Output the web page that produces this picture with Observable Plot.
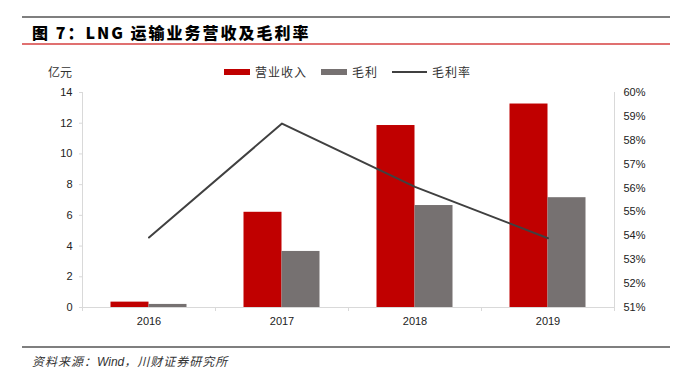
<!DOCTYPE html>
<html><head><meta charset="utf-8">
<script src="https://cdn.jsdelivr.net/npm/d3@7"></script>
<script src="https://cdn.jsdelivr.net/npm/@observablehq/plot@0.6"></script>
<style>
body{margin:0;background:#fff;width:686px;height:378px;position:relative;overflow:hidden;font-family:"Liberation Sans",Arial,sans-serif;}
.abs{position:absolute;}
#topline{left:22px;top:16px;width:648px;height:2px;background:#7f7f7f;}
#title{left:32px;top:20px;font-family:"Noto Sans CJK SC",sans-serif;font-weight:900;font-size:16px;letter-spacing:2px;color:#000;white-space:nowrap;}
#redline{left:22px;top:43px;width:648px;height:2px;background:#e07070;}
#unit{left:48px;top:63px;font-family:"Noto Sans CJK SC",sans-serif;font-size:12px;color:#333;}
#legend{left:224px;top:63px;font-family:"Noto Sans CJK SC",sans-serif;font-size:12px;letter-spacing:1px;color:#333;display:flex;align-items:center;white-space:nowrap;}
#legend .sw{display:inline-block;width:26px;height:6px;margin-right:5px;}
#legend .ln{display:inline-block;width:35px;height:2px;background:#404040;margin-right:5px;}
#legend .it{display:flex;align-items:center;margin-right:14px;}
#botline{left:22px;top:346px;width:648px;height:2px;background:#7f7f7f;}
#source{left:32px;top:352px;font-size:12px;letter-spacing:1px;font-style:italic;color:#333;font-family:"Noto Sans CJK SC",sans-serif;}
#source i{font-family:"Liberation Sans",Arial,sans-serif;letter-spacing:0;}
#chart{left:0;top:82px;}
</style></head>
<body>
<div class="abs" id="topline"></div>
<div class="abs" id="title">图 7：LNG 运输业务营收及毛利率</div>
<div class="abs" id="redline"></div>
<div class="abs" id="unit">亿元</div>
<div class="abs" id="legend"></div>
<div class="abs" id="chart"></div>
<div class="abs" id="botline"></div>
<div class="abs" id="source">资料来源：<i>Wind</i>，川财证券研究所</div>
<script>
const years = ["2016", "2017", "2018", "2019"];
const revenue = [0.35, 6.2, 11.85, 13.25];
const grossProfit = [0.2, 3.65, 6.64, 7.15];
const grossMargin = [53.93, 58.7, 56.05, 53.9];
const leftTicks = [0, 2, 4, 6, 8, 10, 12, 14];
const rightTicks = [51, 52, 53, 54, 55, 56, 57, 58, 59, 60];
const seriesNames = ["营业收入", "毛利", "毛利率"];
const colors = {rev: "#C00000", gp: "#767171", gm: "#404040"};

const pMin = 51, pMax = 60, yMax = 14;
const toLeft = p => (p - pMin) * yMax / (pMax - pMin);
const toPct = v => v * (pMax - pMin) / yMax + pMin;

const rows = years.map((y, i) => ({year: y, rev: revenue[i], gp: grossProfit[i], gm: toLeft(grossMargin[i])}));

const width = 686, mL = 82, mR = 72;
const band = (width - mL - mR) / years.length;
const barW = band * 0.2857;
const half = band / 2;

const axisColor = "#d9d9d9";
const chart = Plot.plot({
  width, height: 255,
  marginLeft: mL, marginRight: mR, marginTop: 10, marginBottom: 30,
  style: {fontFamily: "'Liberation Sans', Arial, sans-serif", fontSize: "11px", color: "#222", background: "transparent"},
  x: {domain: years, padding: 0, axis: null},
  y: {domain: [0, yMax], axis: null},
  marks: [
    Plot.barY(rows, {x: "year", y: "rev", fill: colors.rev, insetLeft: half - barW, insetRight: half}),
    Plot.barY(rows, {x: "year", y: "gp", fill: colors.gp, insetLeft: half, insetRight: half - barW}),
    Plot.ruleY([0], {stroke: axisColor}),
    Plot.ruleX([years[0]], {y1: 0, y2: yMax, dx: -half, stroke: axisColor}),
    Plot.ruleX([years[years.length - 1]], {y1: 0, y2: yMax, dx: half, stroke: axisColor}),
    Plot.axisY({ticks: leftTicks, tickSize: 3, tickPadding: 7, stroke: axisColor, anchor: "left", label: null, fontSize: 11}),
    Plot.axisY({ticks: rightTicks.map(toLeft), tickFormat: d => Math.round(toPct(d)) + "%", tickSize: 0, tickPadding: 9, anchor: "right", label: null, fontSize: 11}),
    Plot.tickY(rightTicks.map(toLeft), {x: years[years.length - 1], dx: half - 2, stroke: axisColor, insetLeft: half - 2, insetRight: -2}),
    Plot.axisX({tickSize: 0, tickPadding: 10, label: null, fontSize: 11}),
    Plot.axisX({tickSize: 4, text: null, dx: -half, stroke: axisColor, label: null}),
    Plot.axisX([years[years.length - 1]], {tickSize: 4, text: null, dx: half, stroke: axisColor, label: null}),
    Plot.lineY(rows, {x: "year", y: "gm", stroke: colors.gm, strokeWidth: 2})
  ]
});
document.getElementById("chart").appendChild(chart);

const legend = document.getElementById("legend");
const legendStyles = [
  `<span class="sw" style="background:${colors.rev}"></span>`,
  `<span class="sw" style="background:${colors.gp}"></span>`,
  `<span class="ln"></span>`
];
seriesNames.forEach((n, i) => {
  const d = document.createElement("span");
  d.className = "it";
  d.innerHTML = legendStyles[i] + n;
  legend.appendChild(d);
});
</script>
</body></html>
